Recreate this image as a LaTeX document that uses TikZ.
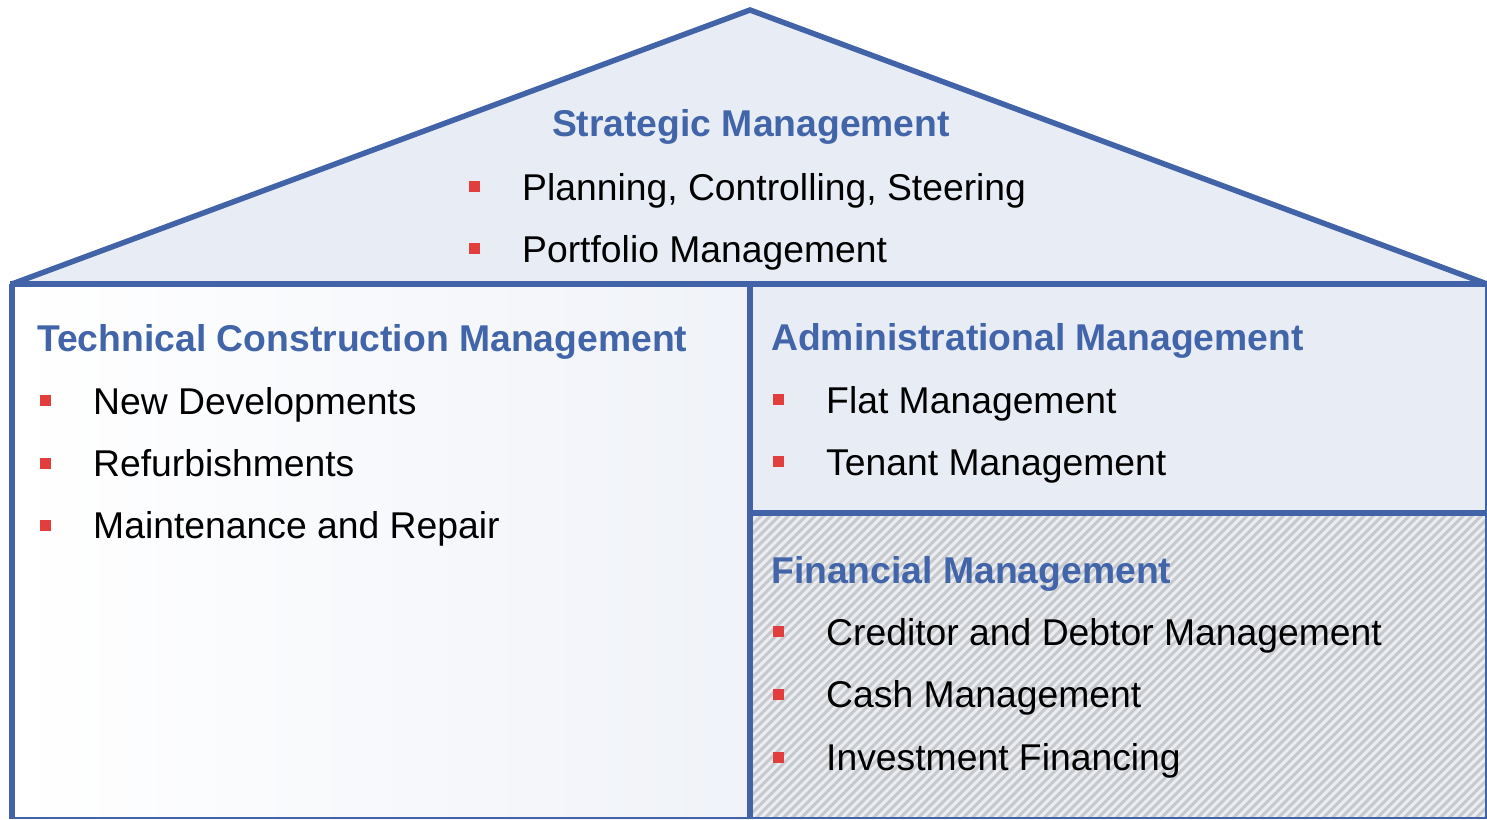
\documentclass[tikz,border=0pt]{standalone}
\usepackage{fontspec}
\setmainfont{Liberation Sans}
\definecolor{frameblue}{RGB}{66,99,168}
\definecolor{headblue}{RGB}{66,101,170}
\definecolor{panel}{RGB}{232,236,245}
\definecolor{hatchbg}{RGB}{234,237,242}
\definecolor{hatchline}{RGB}{200,201,204}
\definecolor{bulletred}{RGB}{226,62,62}
% white on the left, fading into the panel colour on the right
\pgfdeclarehorizontalshading{wing}{100bp}{color(0bp)=(white); color(25bp)=(white); color(100bp)=(panel)}
\tikzset{
  frame/.style={draw=frameblue, line width=5.5pt, line join=miter},
  thinframe/.style={draw=frameblue, line width=1.2pt},
  hatch/.style={draw=hatchline, line width=3pt},
  heading/.style={anchor=base west, inner sep=0pt, text=headblue,
    font=\fontsize{37.3}{41}\selectfont\bfseries},
  item/.style={anchor=base west, inner sep=0pt, text=black,
    font=\fontsize{37.3}{41}\selectfont},
  bullet/.style={fill=bulletred, minimum size=11pt, inner sep=0pt, draw=none}
}
\begin{document}
\begin{tikzpicture}[x=1pt, y=-1pt]
\useasboundingbox (0,0) rectangle (1487,819);

% roof
\fill[panel] (12,284) -- (750,10) -- (1487,284) -- cycle;
% left wing
\shade[shading=wing] (12,284) rectangle (750,819);
% upper right room
\fill[panel] (750,284) rectangle (1487,513);
% lower right room: diagonal hatching
\fill[hatchbg] (750,513) rectangle (1487,819);
\begin{scope}
  \clip (752,515) rectangle (1486,818);
  \foreach \s in {0,9,...,1060} {
    \draw[hatch] (440+\s,819) -- (746+\s,513);
  }
\end{scope}

% outer thin edges
\draw[thinframe] (1486,284) -- (1486,818) -- (12,818);
% roof outline and walls
\draw[frame] (12,284) -- (750,10) -- (1487,284);
\draw[frame] (10,284) -- (1487,284);
\draw[frame] (12,284) -- (12,819);
\draw[frame] (750,284) -- (750,819);
\draw[frame] (750,513) -- (1487,513);

% strategic management
\node[heading, anchor=base] (sm) at (751,136) {Strategic Management};
\node[bullet] (smb1) at (474,186.5) {};
\node[item] (sm1) at (522,200) {Planning, Controlling, Steering};
\node[bullet] (smb2) at (474,248.5) {};
\node[item] (sm2) at (522,262) {Portfolio Management};

% technical construction management
\node[heading] (tc) at (37,351) {Technical Construction Management};
\node[bullet] (tcb1) at (45,400.5) {};
\node[item] (tc1) at (93,414) {New Developments};
\node[bullet] (tcb2) at (45,463) {};
\node[item] (tc2) at (93,476.5) {Refurbishments};
\node[bullet] (tcb3) at (45,525) {};
\node[item] (tc3) at (93,538.5) {Maintenance and Repair};

% administrational management
\node[heading] (am) at (771,350) {Administrational Management};
\node[bullet] (amb1) at (778,399.5) {};
\node[item] (am1) at (826,413) {Flat Management};
\node[bullet] (amb2) at (778,461.5) {};
\node[item] (am2) at (826,475) {Tenant Management};

% financial management
\node[heading] (fm) at (771,583) {Financial Management};
\node[bullet] (fmb1) at (778,631.5) {};
\node[item] (fm1) at (826,645) {Creditor and Debtor Management};
\node[bullet] (fmb2) at (778,694) {};
\node[item] (fm2) at (826,707.5) {Cash Management};
\node[bullet] (fmb3) at (778,757) {};
\node[item] (fm3) at (826,770.5) {Investment Financing};
\end{tikzpicture}
\end{document}
